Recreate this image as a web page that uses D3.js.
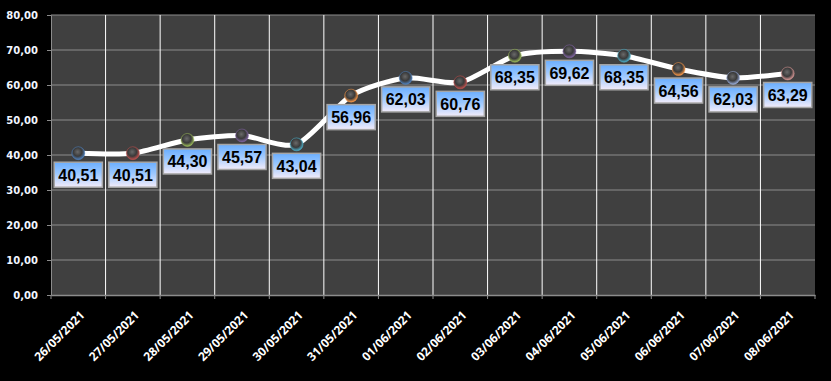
<!DOCTYPE html>
<html>
<head>
<meta charset="utf-8">
<title>Serie diaria</title>
<style>
  body { margin: 0; background: #000; }
  svg { display: block; }
</style>
</head>
<body>
<script src="https://d3js.org/d3.v7.min.js"></script>
<script>
// data
const dates = ["26/05/2021", "27/05/2021", "28/05/2021", "29/05/2021", "30/05/2021",
  "31/05/2021", "01/06/2021", "02/06/2021", "03/06/2021", "04/06/2021",
  "05/06/2021", "06/06/2021", "07/06/2021", "08/06/2021"];
const values = [40.51, 40.51, 44.30, 45.57, 43.04, 56.96, 62.03, 60.76, 68.35, 69.62,
  68.35, 64.56, 62.03, 63.29];
const yTicks = [0, 10, 20, 30, 40, 50, 60, 70, 80];
const markerColors = ["#4f81bd", "#c0504d", "#9bbb59", "#8064a2", "#4bacc6", "#f79646",
  "#4f81bd", "#c0504d", "#9bbb59", "#8064a2", "#4bacc6", "#f79646", "#95a9d6", "#d99795"];

const width = 831, height = 381;
const margin = {top: 15, right: 16, bottom: 86, left: 51};

const svg = d3.select("body").append("svg")
  .attr("width", width)
  .attr("height", height);

svg.append("rect").attr("width", width).attr("height", height).attr("fill", "#000");

const fmt = v => d3.format(".2f")(v).replace(".", ",");

const x = d3.scaleBand()
  .domain(dates)
  .range([margin.left, width - margin.right]);

const y = d3.scaleLinear()
  .domain([0, 80])
  .range([height - margin.bottom, margin.top]);

const defs = svg.append("defs");

// box gradient for data labels
const lg = defs.append("linearGradient")
  .attr("id", "lblgrad").attr("x1", 0).attr("y1", 0).attr("x2", 0).attr("y2", 1);
lg.append("stop").attr("offset", "0%").attr("stop-color", "#6aaeff");
lg.append("stop").attr("offset", "45%").attr("stop-color", "#9cc8ff");
lg.append("stop").attr("offset", "100%").attr("stop-color", "#f3ecfa");

// marker gradients
markerColors.forEach((c, i) => {
  const rg = defs.append("radialGradient")
    .attr("id", "mk" + i).attr("cx", "45%").attr("cy", "40%").attr("r", "60%");
  rg.append("stop").attr("offset", "0%").attr("stop-color", "#6a6a6a");
  rg.append("stop").attr("offset", "55%").attr("stop-color", "#3a3a3a");
  rg.append("stop").attr("offset", "100%").attr("stop-color", c);
});

// plot area
svg.append("rect")
  .attr("x", margin.left)
  .attr("y", margin.top)
  .attr("width", width - margin.left - margin.right)
  .attr("height", y(0) - margin.top)
  .attr("fill", "#404040");

// horizontal gridlines
svg.selectAll(".hgrid")
  .data(yTicks.slice(1))
  .enter()
  .append("line")
  .attr("class", "hgrid")
  .attr("x1", margin.left)
  .attr("x2", width - margin.right)
  .attr("y1", d => y(d))
  .attr("y2", d => y(d))
  .attr("stroke", "#8c8c8c")
  .attr("stroke-width", 1);

// vertical gridlines (white) at category boundaries
svg.selectAll(".vgrid")
  .data(dates.slice(1))
  .enter()
  .append("line")
  .attr("class", "vgrid")
  .attr("x1", d => x(d))
  .attr("x2", d => x(d))
  .attr("y1", margin.top)
  .attr("y2", y(0))
  .attr("stroke", "#ffffff")
  .attr("stroke-width", 1);

// y axis
const yAxis = svg.append("g")
  .attr("transform", `translate(${margin.left},0)`)
  .call(d3.axisLeft(y).tickValues(yTicks).tickFormat(fmt).tickSize(4).tickPadding(9));
yAxis.select(".domain").attr("stroke", "#8c8c8c");
yAxis.selectAll(".tick line").attr("stroke", "#8c8c8c");
yAxis.selectAll("text")
  .attr("fill", "#f2f6ff")
  .style("font-family", "'DejaVu Sans', Verdana, sans-serif")
  .style("font-weight", "bold")
  .style("font-size", "10px");

// x axis
const xAxis = svg.append("g")
  .attr("transform", `translate(0,${y(0)})`)
  .call(d3.axisBottom(x).tickSize(0).tickFormat(d => d));
xAxis.select(".domain").attr("stroke", "#8c8c8c").attr("stroke-width", 1.5);
xAxis.selectAll("text")
  .attr("fill", "#ffffff")
  .style("font-family", "'Open Sans', 'Liberation Sans', sans-serif")
  .style("font-weight", "bold")
  .style("font-size", "12px")
  .attr("text-anchor", "end")
  .attr("dy", 0)
  .attr("y", 0)
  .attr("transform", "translate(7,21) rotate(-45)");

// tick marks at category boundaries
svg.selectAll(".xtick")
  .data(x.domain().map(d => x(d)).concat([x.range()[1]]))
  .enter()
  .append("line")
  .attr("class", "xtick")
  .attr("x1", d => d).attr("x2", d => d)
  .attr("y1", y(0)).attr("y2", y(0) + 4)
  .attr("stroke", "#8c8c8c");

const cx = d => x(d) + x.bandwidth() / 2;

// line
const line = d3.line()
  .x((d, i) => cx(dates[i]))
  .y(d => y(d))
  .curve(d3.curveCardinal.tension(0.3));

svg.append("path")
  .datum(values)
  .attr("d", line)
  .attr("fill", "none")
  .attr("stroke", "#ffffff")
  .attr("stroke-width", 5)
  .attr("stroke-linecap", "round");

// markers
svg.selectAll(".marker")
  .data(values)
  .enter()
  .append("circle")
  .attr("class", "marker")
  .attr("cx", (d, i) => cx(dates[i]))
  .attr("cy", d => y(d))
  .attr("r", 6.5)
  .attr("fill", (d, i) => `url(#mk${i})`)
  .attr("stroke", (d, i) => markerColors[i])
  .attr("stroke-opacity", 0.6)
  .attr("stroke-width", 0.8);

// data labels
const labels = svg.selectAll(".lbl")
  .data(values)
  .enter()
  .append("g")
  .attr("class", "lbl")
  .attr("transform", (d, i) => `translate(${cx(dates[i])},${y(d) + 9})`);

labels.append("rect");
labels.append("text")
  .text(d => fmt(d))
  .attr("x", 0)
  .attr("y", 18.5)
  .attr("text-anchor", "middle")
  .attr("fill", "#000")
  .style("font-family", "'Liberation Sans', Arial, sans-serif")
  .style("font-weight", "bold")
  .style("font-size", "16px");

labels.each(function () {
  const g = d3.select(this);
  const bb = g.select("text").node().getBBox();
  g.select("rect")
    .attr("x", -bb.width / 2 - 4)
    .attr("y", 0)
    .attr("width", bb.width + 8)
    .attr("height", 25)
    .attr("fill", "url(#lblgrad)")
    .attr("stroke", "#a6a6a6")
    .attr("stroke-width", 1.5);
});
</script>
</body>
</html>
